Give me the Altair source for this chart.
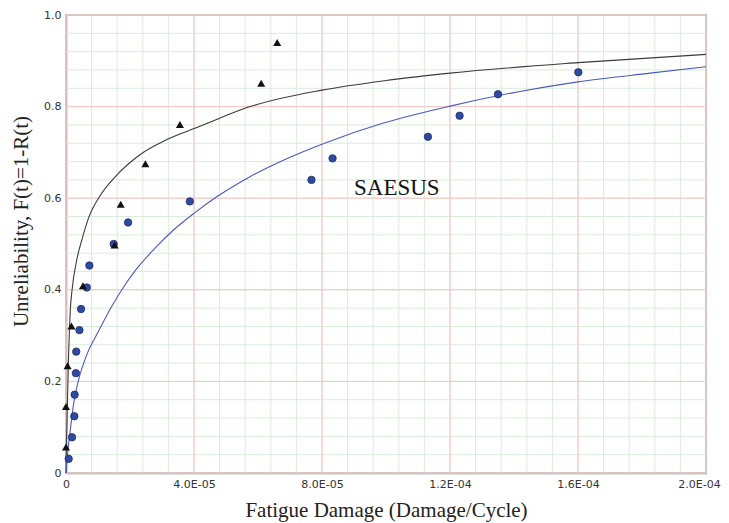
import altair as alt
import pandas as pd

# ---- data ----
circle_x = [0.84e-6, 1.88e-6, 2.6e-6, 2.7e-6, 3.1e-6, 3.2e-6, 4.2e-6, 4.7e-6, 6.5e-6, 7.3e-6,
            1.49e-5, 1.94e-5, 3.87e-5, 7.67e-5, 8.33e-5, 1.131e-4, 1.23e-4, 1.35e-4, 1.601e-4]
circle_y = [0.031, 0.078, 0.124, 0.171, 0.218, 0.265, 0.312, 0.358, 0.405, 0.453,
            0.500, 0.547, 0.593, 0.640, 0.687, 0.734, 0.780, 0.827, 0.875]

tri_x = [0.0, 0.0, 0.5e-6, 1.7e-6, 5.3e-6, 1.52e-5, 1.71e-5, 2.48e-5, 3.56e-5, 6.1e-5, 6.6e-5]
tri_y = [0.057, 0.145, 0.234, 0.321, 0.409, 0.498, 0.587, 0.675, 0.761, 0.851, 0.940]

black_x = [0, 1e-7, 3e-7, 8e-7, 1.35e-6, 1.9e-6, 3.5e-6, 5e-6, 7e-6, 1.06e-5, 1.58e-5, 2.31e-5,
           3.15e-5, 4.19e-5, 5.75e-5, 8.0e-5, 1.0e-4, 1.2e-4, 1.6e-4, 2.0e-4]
black_y = [0, 0.05, 0.108, 0.254, 0.356, 0.40, 0.47, 0.51, 0.556, 0.605, 0.65, 0.695,
           0.728, 0.757, 0.80, 0.836, 0.857, 0.873, 0.896, 0.914]

blue_x = [0, 6e-7, 1.35e-6, 2.4e-6, 4.0e-6, 6.6e-6, 1.02e-5, 1.44e-5, 1.79e-5, 2.2e-5, 2.73e-5, 3.35e-5,
          4.0e-5, 4.71e-5, 5.75e-5, 6.79e-5, 8.0e-5, 9.92e-5, 1.2e-4, 1.41e-4, 1.6e-4, 1.825e-4, 2.0e-4]
blue_y = [0, 0.049, 0.094, 0.152, 0.205, 0.26, 0.31, 0.365, 0.405, 0.445, 0.487, 0.53,
          0.567, 0.603, 0.647, 0.683, 0.718, 0.764, 0.801, 0.832, 0.854, 0.873, 0.887]

x_ticks = [0, 4e-5, 8e-5, 1.2e-4, 1.6e-4, 2e-4]
x_labels = ["0", "4.0E-05", "8.0E-05", "1.2E-04", "1.6E-04", "2.0E-04"]
y_ticks = [0, 0.2, 0.4, 0.6, 0.8, 1.0]
y_labels = ["0", "0.2", "0.4", "0.6", "0.8", "1.0"]
x_minor = [i * 8e-6 for i in range(26)]
y_minor = [i * 0.04 for i in range(26)]

annot_text = ["SAESUS"]
annot_x = [9.0e-5]
annot_y = [0.607]

# ---- tables ----
circles = pd.DataFrame({"x": circle_x, "y": circle_y})
tris = pd.DataFrame({"x": tri_x, "y": tri_y})
black = pd.DataFrame({"x": black_x, "y": black_y})
blue = pd.DataFrame({"x": blue_x, "y": blue_y})
annot = pd.DataFrame({"x": annot_x, "y": annot_y, "t": annot_text})


def label_expr(ticks, labels, tol):
    expr = "''"
    for v, l in reversed(list(zip(ticks, labels))):
        expr = f"(abs(datum.value - {v!r}) < {tol} ? '{l}' : {expr})"
    return expr


xs = alt.Scale(domain=[0, 2e-4], nice=False, zero=False)
ys = alt.Scale(domain=[0, 1], nice=False, zero=False)

GREEN = "#d9ecd9"
RED = "#f7c4c4"

x_axis = alt.Axis(values=x_ticks, labelExpr=label_expr(x_ticks, x_labels, 1e-9),
                  title="Fatigue Damage (Damage/Cycle)", grid=False, ticks=False,
                  labelPadding=5, labelFlush=False, titleBaseline="top", titleY=26, titleFontSize=21,
                  labelOffset={"condition": {"test": "datum.value > 1.9e-4", "value": -7}, "value": 0})
y_axis = alt.Axis(values=y_ticks, labelExpr=label_expr(y_ticks, y_labels, 1e-6),
                  title="Unreliability, F(t)=1-R(t)", grid=False, ticks=False,
                  labelPadding=5, labelFlush=False, titleX=-35, titleY=206, titleFontSize=21)

X = lambda: alt.X("x:Q", scale=xs, axis=x_axis)
Y = lambda: alt.Y("y:Q", scale=ys, axis=y_axis)

gx_minor = alt.Chart(pd.DataFrame({"x": x_minor})).mark_rule(color=GREEN, strokeWidth=1).encode(x=X())
gy_minor = alt.Chart(pd.DataFrame({"y": y_minor})).mark_rule(color=GREEN, strokeWidth=1).encode(y=Y())
gx_major = alt.Chart(pd.DataFrame({"x": x_ticks})).mark_rule(color=RED, strokeWidth=1).encode(x=X())
gy_major = alt.Chart(pd.DataFrame({"y": y_ticks})).mark_rule(color=RED, strokeWidth=1).encode(y=Y())

line_black = alt.Chart(black).mark_line(color="#3a3a3a", strokeWidth=1.1, interpolate="monotone").encode(
    x=X(), y=Y())
line_blue = alt.Chart(blue).mark_line(color="#4a5ac0", strokeWidth=1.1, interpolate="monotone").encode(
    x=X(), y=Y())

pts_circ = alt.Chart(circles).mark_point(shape="circle", filled=True, size=55, color="#2d4ba0",
                                         stroke="#1c2c6a", strokeWidth=0.8, opacity=1).encode(x=X(), y=Y())
pts_tri = alt.Chart(tris).mark_point(shape="triangle-up", filled=True, size=65, color="#111111",
                                     opacity=1).encode(x=X(), y=Y())

txt = alt.Chart(annot).mark_text(font="Liberation Serif", fontSize=23, align="left",
                                 baseline="alphabetic", color="#111111").encode(
    x=X(), y=Y(), text="t:N")

chart = alt.layer(gx_minor, gy_minor, gx_major, gy_major, line_black, line_blue,
                  pts_circ, pts_tri, txt).properties(
    width=640, height=458,
    autosize=alt.AutoSizeParams(type="none"),
    padding={"left": 58, "top": 7, "right": 15, "bottom": 50},
).configure_view(stroke="#888888", strokeWidth=1.5).configure_axis(
    domainColor="#888888", domainWidth=1.5,
    labelFont="DejaVu Sans", labelFontSize=11, labelColor="#333333",
    titleFont="Liberation Serif", titleFontWeight="normal", titleColor="#222222",
)

chart.save("out.html", embed_options={"renderer": "svg", "actions": False})
